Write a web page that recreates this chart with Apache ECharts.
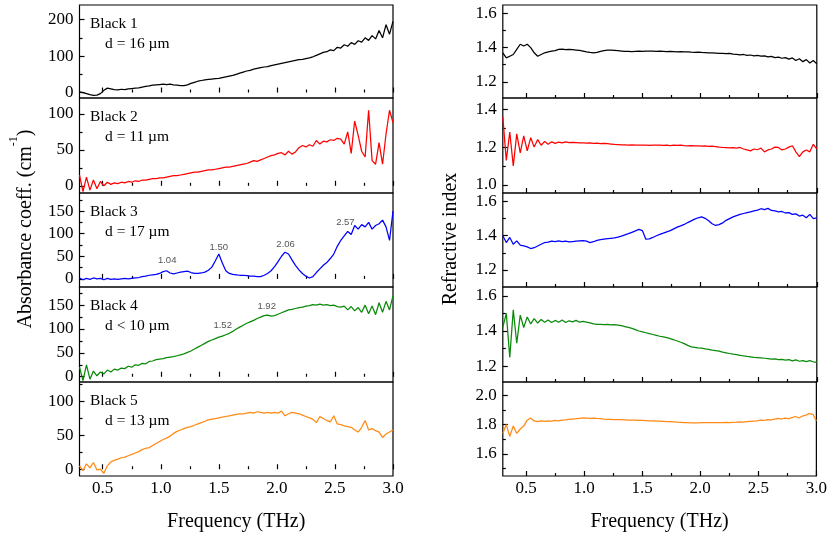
<!DOCTYPE html>
<html>
<head>
<meta charset="utf-8">
<script src="https://cdn.jsdelivr.net/npm/echarts@6.0.0/dist/echarts.min.js"></script>
<style>
html,body{margin:0;padding:0;background:#fff;}
#main{width:830px;height:533px;}
</style>
</head>
<body>
<div id="main"></div>
<script>
// ---------- data ----------
const freq = [
0.30,0.33,0.36,0.39,0.42,0.45,0.48,0.51,0.54,0.57,
0.60,0.63,0.66,0.69,0.72,0.75,0.78,0.81,0.84,0.87,
0.90,0.93,0.96,0.99,1.02,1.05,1.08,1.11,1.14,1.17,
1.20,1.23,1.26,1.29,1.32,1.35,1.38,1.41,1.44,1.47,
1.50,1.53,1.56,1.59,1.62,1.65,1.68,1.71,1.74,1.77,
1.80,1.83,1.86,1.89,1.92,1.95,1.98,2.01,2.04,2.07,
2.10,2.13,2.16,2.19,2.22,2.25,2.28,2.31,2.34,2.37,
2.40,2.43,2.46,2.49,2.52,2.55,2.58,2.61,2.64,2.67,
2.70,2.73,2.76,2.79,2.82,2.85,2.88,2.91,2.94,2.97,
3.00];

const absBlack1 = [
2,0,-3,-6,-8,-7,-3,6,12,10,
8,7,9,8,10,11,12,13,15,17,
18,20,21,22,23,22,23,21,20,19,
19,21,25,28,31,33,35,36,37,38,
39,41,43,45,47,50,53,56,59,61,
64,66,68,70,71,74,76,78,80,82,
84,86,88,90,91,93,95,98,102,106,
110,112,117,115,124,122,131,127,137,132,
142,138,150,143,156,147,170,150,186,160,
195];

const absBlack2 = [
15,-8,12,-6,8,-4,6,0,5,2,
4,3,5,4,6,5,7,6,8,8,
9,10,10,11,11,12,13,14,14,15,
16,17,18,19,19,20,21,22,22,23,
24,25,26,26,27,28,29,30,31,33,
35,34,36,38,40,42,43,45,46,43,
48,44,47,53,56,54,57,55,63,58,
62,61,64,63,66,65,58,75,45,90,
70,48,40,105,35,30,60,30,72,105,
88];

const absBlack3 = [
2,-2,1,-1,2,0,1,-2,1,-1,
0,-1,0,1,0,1,2,3,5,6,
8,9,10,12,16,18,13,11,13,15,
16,17,14,12,12,13,15,19,26,40,
55,35,18,12,10,9,8,8,7,6,
6,5,5,8,12,18,27,38,50,59,
55,42,30,20,12,6,2,5,14,22,
30,36,45,55,72,85,95,105,98,118,
110,120,115,125,110,118,122,130,115,85,
150];

const absBlack4 = [
20,-8,25,-5,12,2,10,6,14,10,
16,14,18,17,22,20,25,24,28,27,
32,33,36,37,38,40,41,42,44,46,
48,51,54,58,62,66,70,74,77,80,
83,85,88,91,95,100,104,108,112,115,
118,122,125,128,129,127,128,131,134,137,
140,141,143,145,146,148,149,151,150,152,
150,151,149,150,147,146,148,140,147,138,
145,135,150,132,148,130,155,135,158,140,
170];

const absBlack5 = [
5,-2,8,2,10,-1,0,-6,5,11,
13,15,17,18,20,22,24,26,29,31,
32,35,38,41,44,46,49,53,56,58,
60,62,63,65,67,69,71,73,74,75,
76,77,78,79,80,81,82,82,83,84,
83,85,84,83,84,83,84,83,86,79,
82,84,83,82,80,78,76,74,69,78,
75,72,70,79,67,66,64,63,62,58,
55,62,72,58,60,57,55,47,52,55,
58];

const nBlack1 = [
1.37,1.34,1.35,1.36,1.39,1.42,1.41,1.42,1.40,1.37,
1.35,1.36,1.37,1.375,1.38,1.383,1.39,1.392,1.388,1.39,
1.388,1.386,1.384,1.38,1.375,1.372,1.37,1.372,1.378,1.383,
1.385,1.386,1.384,1.382,1.38,1.378,1.378,1.377,1.378,1.379,
1.378,1.379,1.38,1.379,1.378,1.379,1.378,1.377,1.378,1.377,
1.376,1.377,1.375,1.376,1.374,1.373,1.374,1.372,1.371,1.370,
1.369,1.368,1.366,1.367,1.365,1.366,1.362,1.360,1.358,1.360,
1.355,1.357,1.352,1.355,1.350,1.352,1.346,1.349,1.342,1.345,
1.338,1.342,1.333,1.340,1.325,1.335,1.318,1.330,1.310,1.325,
1.305];

const nBlack2 = [
1.36,1.13,1.28,1.10,1.27,1.17,1.26,1.18,1.25,1.20,
1.24,1.21,1.23,1.215,1.228,1.22,1.226,1.222,1.228,1.224,
1.225,1.224,1.222,1.223,1.221,1.222,1.22,1.221,1.219,1.22,
1.218,1.216,1.214,1.213,1.212,1.212,1.211,1.212,1.21,1.211,
1.21,1.21,1.209,1.21,1.21,1.211,1.209,1.21,1.208,1.21,
1.209,1.21,1.208,1.207,1.208,1.206,1.207,1.205,1.206,1.204,
1.205,1.203,1.2,1.198,1.197,1.196,1.197,1.195,1.198,1.19,
1.185,1.18,1.19,1.186,1.195,1.175,1.185,1.19,1.2,1.198,
1.185,1.19,1.2,1.207,1.175,1.15,1.175,1.185,1.175,1.215,
1.19];

const nBlack3 = [
1.40,1.36,1.39,1.35,1.37,1.345,1.34,1.335,1.325,1.33,
1.34,1.35,1.36,1.362,1.368,1.366,1.37,1.365,1.368,1.364,
1.366,1.368,1.37,1.372,1.368,1.36,1.365,1.373,1.377,1.38,
1.383,1.385,1.387,1.392,1.398,1.405,1.412,1.42,1.428,1.437,
1.43,1.38,1.382,1.39,1.40,1.408,1.415,1.423,1.43,1.44,
1.45,1.458,1.466,1.477,1.487,1.497,1.505,1.51,1.502,1.488,
1.47,1.46,1.465,1.475,1.49,1.50,1.51,1.518,1.525,1.53,
1.535,1.54,1.545,1.55,1.558,1.553,1.56,1.548,1.545,1.54,
1.542,1.533,1.535,1.525,1.528,1.515,1.52,1.505,1.525,1.50,
1.505];

const nBlack4 = [
1.42,1.50,1.25,1.52,1.33,1.49,1.42,1.48,1.44,1.47,
1.445,1.465,1.45,1.462,1.448,1.46,1.45,1.462,1.448,1.458,
1.452,1.46,1.45,1.455,1.45,1.446,1.44,1.437,1.438,1.436,
1.438,1.435,1.436,1.433,1.43,1.425,1.42,1.415,1.408,1.40,
1.395,1.39,1.385,1.38,1.375,1.37,1.366,1.362,1.356,1.35,
1.343,1.336,1.328,1.318,1.31,1.307,1.304,1.302,1.298,1.295,
1.291,1.288,1.285,1.28,1.276,1.272,1.268,1.265,1.262,1.258,
1.255,1.253,1.25,1.249,1.247,1.245,1.243,1.24,1.241,1.237,
1.238,1.235,1.237,1.23,1.236,1.228,1.232,1.226,1.232,1.225,
1.222];

const nBlack5 = [
1.74,1.80,1.72,1.79,1.74,1.77,1.79,1.83,1.845,1.825,
1.82,1.825,1.822,1.826,1.824,1.828,1.826,1.83,1.832,1.835,
1.838,1.84,1.843,1.845,1.844,1.843,1.844,1.842,1.841,1.838,
1.836,1.835,1.834,1.834,1.833,1.832,1.831,1.83,1.83,1.829,
1.828,1.827,1.826,1.825,1.824,1.823,1.822,1.821,1.82,1.818,
1.816,1.815,1.814,1.813,1.812,1.812,1.812,1.813,1.813,1.813,
1.814,1.814,1.813,1.814,1.815,1.814,1.815,1.816,1.818,1.817,
1.82,1.822,1.824,1.826,1.83,1.828,1.834,1.832,1.837,1.842,
1.838,1.844,1.84,1.848,1.855,1.845,1.858,1.865,1.875,1.87,
1.825];

// sample labels
const sampleNames = ['Black 1','Black 2','Black 3','Black 4','Black 5'];
const thickness = ['d = 16 \u00b5m','d = 11 \u00b5m','d = 17 \u00b5m','d < 10 \u00b5m','d = 13 \u00b5m'];

// peak annotations
const peakText3 = ['1.04','1.50','2.06','2.57'];
const peakFreq3 = [1.055, 1.50, 2.075, 2.59];
const peakVal3  = [40, 70, 76, 124];
const peakText4 = ['1.52','1.92'];
const peakFreq4 = [1.533, 1.912];
const peakVal4  = [107, 148];

// tick values
const xMajor = [0.5,1.0,1.5,2.0,2.5,3.0];
const xMinor = [0.75,1.25,1.75,2.25,2.75];
const absMajor = [[0,100,200],[0,50,100],[0,50,100,150],[0,50,100,150],[0,50,100]];
const absMinor = [[50,150],[25,75],[25,75,125,175],[25,75,125,175],[25,75,125]];
const nMajor = [[1.2,1.4,1.6],[1.0,1.2,1.4],[1.2,1.4,1.6],[1.2,1.4,1.6],[1.6,1.8,2.0]];
const nMinor = [[1.3,1.5],[1.1,1.3],[1.3,1.5],[1.3,1.5],[1.5,1.7,1.9]];

// ---------- layout / style ----------
const absSeries = [absBlack1,absBlack2,absBlack3,absBlack4,absBlack5];
const nSeries = [nBlack1,nBlack2,nBlack3,nBlack4,nBlack5];
const colors = ['#000000','#ff0000','#0000ff','#0a8a0a','#ff8a14'];
const absRange = [[-15,240],[-10,122],[-18,190],[-11,188],[-10,129]];
const nRange = [[1.105,1.65],[0.957,1.46],[1.10,1.65],[1.11,1.65],[1.45,2.09]];
const tops = [5,98,193,287,382];
const heights = [93,95,94,95,94];
const colLeft = [79.5, 502.8];
const colWidth = [313.5, 314];
const SERIF = 'Liberation Serif';

const grids = [], xAxes = [], yAxes = [], series = [], graphics = [];
let k = 0;
for (let col = 0; col < 2; col++) {
  for (let row = 0; row < 5; row++) {
    grids.push({show:true, borderColor:'#000', borderWidth:1.2, left:colLeft[col], top:tops[row], width:colWidth[col], height:heights[row]});
    const last = row === 4;
    xAxes.push({type:'value', gridIndex:k, min:0.3, max:3.0, position:'bottom',
      axisLine:{show:false}, splitLine:{show:false},
      axisTick:{show:true, inside:true, length:5, customValues:xMajor, lineStyle:{color:'#000', width:1.2}},
      axisLabel:{show:last, customValues:xMajor, formatter:v=>v.toFixed(1), margin:4, color:'#000', fontFamily:SERIF, fontSize:17},
      name: last ? 'Frequency (THz)' : '', nameLocation:'middle', nameGap:36,
      nameTextStyle:{color:'#000', fontFamily:SERIF, fontSize:20}});
    xAxes.push({type:'value', gridIndex:k, min:0.3, max:3.0, position:'bottom',
      axisLine:{show:false}, splitLine:{show:false}, axisLabel:{show:false},
      axisTick:{show:true, inside:true, length:3, customValues:xMinor, lineStyle:{color:'#000', width:1.2}}});
    const rng = col === 0 ? absRange[row] : nRange[row];
    const maj = col === 0 ? absMajor[row] : nMajor[row];
    const mnr = col === 0 ? absMinor[row] : nMinor[row];
    yAxes.push({type:'value', gridIndex:k, min:rng[0], max:rng[1], position:'left',
      axisLine:{show:false}, splitLine:{show:false},
      axisTick:{show:true, inside:true, length:5, customValues:maj, lineStyle:{color:'#000', width:1.2}},
      axisLabel:{customValues:maj, formatter: col===0 ? (v=>String(Math.round(v))) : (v=>v.toFixed(1)), margin:6, color:'#000', fontFamily:SERIF, fontSize:17}});
    yAxes.push({type:'value', gridIndex:k, min:rng[0], max:rng[1], position:'left',
      axisLine:{show:false}, splitLine:{show:false}, axisLabel:{show:false},
      axisTick:{show:true, inside:true, length:3, customValues:mnr, lineStyle:{color:'#000', width:1.2}}});
    const ys = col === 0 ? absSeries[row] : nSeries[row];
    const s = {type:'line', xAxisIndex:2*k, yAxisIndex:2*k, symbol:'none', showSymbol:false, animation:false,
      lineStyle:{color:colors[row], width:1.25}, itemStyle:{color:colors[row]},
      data: freq.map((f,i)=>[f, ys[i]])};
    let pt = null, pf = null, pv = null;
    if (col === 0 && row === 2) { pt = peakText3; pf = peakFreq3; pv = peakVal3; }
    if (col === 0 && row === 3) { pt = peakText4; pf = peakFreq4; pv = peakVal4; }
    if (pt) {
      s.markPoint = {symbol:'circle', symbolSize:0, animation:false, silent:true,
        label:{show:true, position:'inside', formatter:'{b}', color:'#555', fontFamily:'Liberation Sans', fontSize:9.5},
        data: pt.map((t,i)=>({name:t, coord:[pf[i], pv[i]]}))};
    }
    series.push(s);
    if (col === 0) {
      graphics.push({type:'text', x:90, y:tops[row]+19, style:{text:sampleNames[row], fill:'#000', font:'15.5px "Liberation Serif"', verticalAlign:'middle', textVerticalAlign:'middle'}});
      graphics.push({type:'text', x:105, y:tops[row]+39, style:{text:thickness[row], fill:'#000', font:'15.5px "Liberation Serif"', verticalAlign:'middle', textVerticalAlign:'middle'}});
    }
    k++;
  }
}

graphics.push({type:'text', x:22, y:229, rotation:Math.PI/2,
  style:{text:'{n|Absorbance coeff. (cm}{s|-1}{n|)}', align:'center', verticalAlign:'middle', textAlign:'center', textVerticalAlign:'middle',
    rich:{n:{fontFamily:SERIF, fontSize:20, lineHeight:28, verticalAlign:'bottom', fill:'#000', color:'#000'},
          s:{fontFamily:SERIF, fontSize:12, lineHeight:28, verticalAlign:'top', fill:'#000', color:'#000'}}}});
graphics.push({type:'text', x:451, y:239, rotation:Math.PI/2,
  style:{text:'Refractive index', fill:'#000', font:'20px "Liberation Serif"', align:'center', verticalAlign:'middle', textAlign:'center', textVerticalAlign:'middle'}});

const chart = echarts.init(document.getElementById('main'));
chart.setOption({
  animation:false,
  backgroundColor:'#fff',
  grid:grids, xAxis:xAxes, yAxis:yAxes, series:series, graphic:graphics
});
</script>
</body>
</html>
